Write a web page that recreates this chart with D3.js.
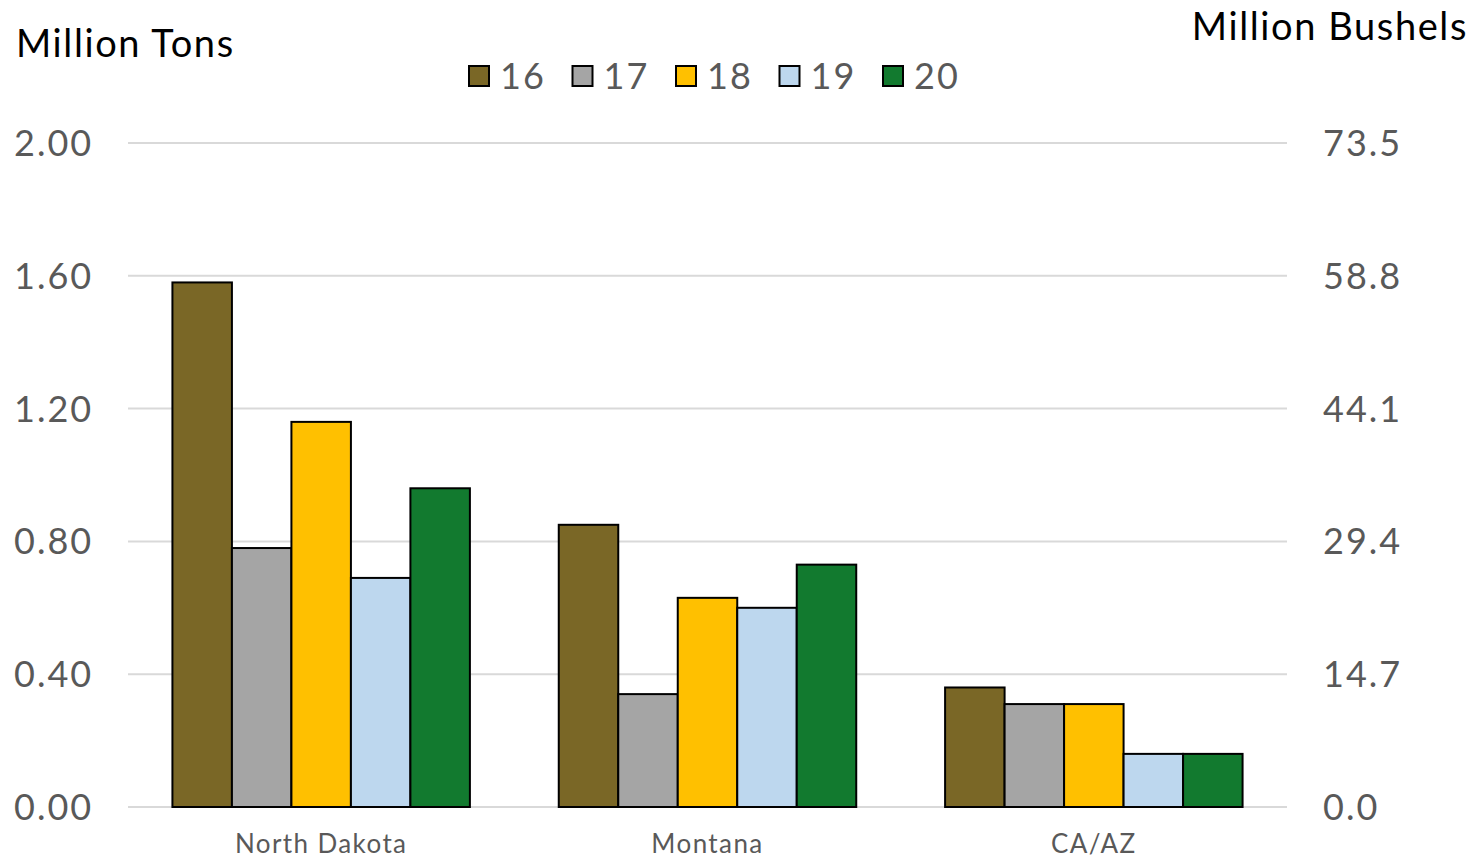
<!DOCTYPE html>
<html>
<head>
<meta charset="utf-8">
<script src="https://cdn.jsdelivr.net/npm/d3@7"></script>
<style>
  body { margin: 0; background: #fff; }
  text { font-family: "Lato", "Open Sans", sans-serif; }
</style>
</head>
<body>
<div id="chart"></div>
<script>
// data
var regions = ["North Dakota", "Montana", "CA/AZ"];
var years = ["16", "17", "18", "19", "20"];
var v16 = [1.58, 0.85, 0.36];
var v17 = [0.78, 0.34, 0.31];
var v18 = [1.16, 0.63, 0.31];
var v19 = [0.69, 0.60, 0.16];
var v20 = [0.96, 0.73, 0.16];
var leftTicks = [0, 0.4, 0.8, 1.2, 1.6, 2.0];
var rightTicks = [0, 14.7, 29.4, 44.1, 58.8, 73.5];
var colors = ["#7A6726", "#A5A5A5", "#FFC000", "#BDD7EE", "#127A2F"];

var series = [v16, v17, v18, v19, v20];

var W = 1479, H = 859;
var margin = {top: 143, right: 192, bottom: 52, left: 128};
var width = W - margin.left - margin.right,
    height = H - margin.top - margin.bottom;

var svg = d3.select("#chart").append("svg")
    .attr("width", W)
    .attr("height", H);

var g = svg.append("g")
    .attr("transform", "translate(" + margin.left + "," + margin.top + ")");

// scales
var x0 = d3.scaleBand().domain(regions).range([0, width]).paddingInner(0.23).paddingOuter(0.115);
var x1 = d3.scaleBand().domain(years).range([0, x0.bandwidth()]);
var y = d3.scaleLinear().domain([0, 2]).range([height, 0]);
var y2 = d3.scaleLinear().domain([0, 73.5]).range([height, 0]);

// gridlines
g.selectAll(".grid").data(leftTicks).enter().append("line")
    .attr("x1", 0).attr("x2", width)
    .attr("y1", function(d) { return y(d); })
    .attr("y2", function(d) { return y(d); })
    .attr("stroke", "#D9D9D9")
    .attr("stroke-width", 2);

// left axis labels
g.selectAll(".ly").data(leftTicks).enter().append("text")
    .attr("x", -114)
    .attr("y", function(d) { return y(d); })
    .attr("dy", "0.36em")
    .attr("font-size", 36)
    .attr("letter-spacing", 2)
    .attr("fill", "#595959")
    .text(function(d) { return d3.format(".2f")(d); });

// right axis labels
g.selectAll(".ry").data(rightTicks).enter().append("text")
    .attr("x", width + 36)
    .attr("y", function(d) { return y2(d); })
    .attr("dy", "0.36em")
    .attr("font-size", 36)
    .attr("letter-spacing", 2)
    .attr("fill", "#595959")
    .text(function(d) { return d3.format(".1f")(d); });

// bars
years.forEach(function(yr, i) {
  g.selectAll(".bar" + yr).data(series[i]).enter().append("rect")
      .attr("x", function(d, j) { return x0(regions[j]) + x1(yr); })
      .attr("y", function(d) { return y(d); })
      .attr("width", x1.bandwidth())
      .attr("height", function(d) { return height - y(d); })
      .attr("fill", colors[i])
      .attr("stroke", "#000")
      .attr("stroke-width", 2);
});

// category labels
g.selectAll(".xl").data(regions).enter().append("text")
    .attr("x", function(d) { return x0(d) + x0.bandwidth() / 2; })
    .attr("y", height + 46)
    .attr("text-anchor", "middle")
    .attr("font-size", 26)
    .attr("letter-spacing", 1.4)
    .attr("fill", "#595959")
    .text(function(d) { return d; });

// axis titles
svg.append("text")
    .attr("x", 16).attr("y", 57)
    .attr("font-size", 38)
    .attr("letter-spacing", 1.6)
    .attr("fill", "#000")
    .text("Million Tons");

svg.append("text")
    .attr("x", 1468).attr("y", 40)
    .attr("text-anchor", "end")
    .attr("font-size", 38)
    .attr("letter-spacing", 1.6)
    .attr("fill", "#000")
    .text("Million Bushels");

// legend
var legend = svg.selectAll(".leg").data(years).enter().append("g")
    .attr("transform", function(d, i) { return "translate(" + (469 + i * 103.5) + ",66)"; });

legend.append("rect")
    .attr("width", 20).attr("height", 20)
    .attr("fill", function(d, i) { return colors[i]; })
    .attr("stroke", "#000")
    .attr("stroke-width", 2);

legend.append("text")
    .attr("x", 31).attr("y", 10)
    .attr("dy", "0.36em")
    .attr("font-size", 36)
    .attr("letter-spacing", 2)
    .attr("fill", "#595959")
    .text(function(d) { return d; });
</script>
</body>
</html>
